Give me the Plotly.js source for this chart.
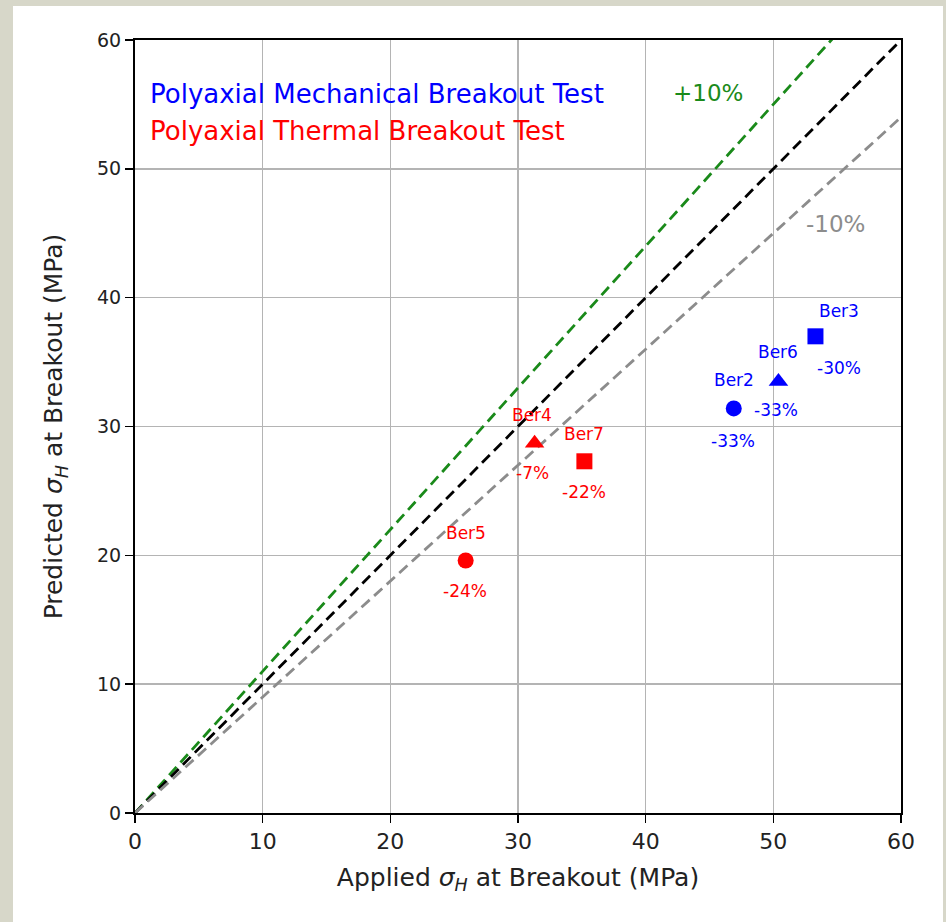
<!DOCTYPE html>
<html>
<head>
<meta charset="utf-8">
<script src="https://cdn.plot.ly/plotly-3.0.1.min.js"></script>
<style>
  html, body { margin: 0; padding: 0; background: #d7d7c9; width: 946px; height: 922px; overflow: hidden; }
  #panel { position: absolute; left: 13px; top: 6px; width: 930px; height: 916px; background: #ffffff; }
  #chart { position: absolute; left: 0; top: 0; width: 946px; height: 922px; }
</style>
</head>
<body>
<div id="panel"></div>
<div id="chart"></div>
<script>
// ---- data ----
const samples   = ['Ber2', 'Ber3', 'Ber6', 'Ber4', 'Ber5', 'Ber7'];
const testType  = ['Mechanical', 'Mechanical', 'Mechanical', 'Thermal', 'Thermal', 'Thermal'];
const applied   = [46.9, 53.3, 50.4, 31.3, 25.9, 35.2];   // Applied sigma_H (MPa)
const predicted = [31.4, 37.0, 33.5, 28.7, 19.6, 27.3];   // Predicted sigma_H (MPa)
const errorPct  = ['-33%', '-30%', '-33%', '-7%', '-24%', '-22%'];
const shapes    = ['circle', 'square', 'triangle-up', 'triangle-up', 'circle', 'square'];

const refX        = [0, 60];
const oneToOneY   = [0, 60];
const plus10Y     = [0, 66];
const minus10Y    = [0, 54];

const xTicks = [0, 10, 20, 30, 40, 50, 60];
const yTicks = [0, 10, 20, 30, 40, 50, 60];

const legendLabels = ['Polyaxial Mechanical Breakout Test', 'Polyaxial Thermal Breakout Test'];
const bandLabels   = ['+10%', '-10%'];

// ---- styling ----
const typeColor = { Mechanical: '#0000ff', Thermal: '#ff0000' };
const FONT = 'DejaVu Sans, Verdana, sans-serif';

const traces = [];
function refLine(y, color) {
  return { x: refX, y: y, mode: 'lines', hoverinfo: 'skip', showlegend: false,
           line: { color: color, width: 2.8, dash: '11px,6px' } };
}
traces.push(refLine(plus10Y, '#1a8a1a'));
traces.push(refLine(oneToOneY, '#000000'));
traces.push(refLine(minus10Y, '#8c8c8c'));

for (let i = 0; i < samples.length; i++) {
  traces.push({
    x: [applied[i]], y: [predicted[i]], mode: 'markers', name: samples[i], showlegend: false,
    marker: { symbol: shapes[i], size: shapes[i] === 'triangle-up' ? 17 : 16, color: typeColor[testType[i]] }
  });
}

// label pixel offsets (name above, percentage below)
const nameShift = [[0, 28], [24, 25], [0, 29], [-3, 28], [0, 27], [0, 27]];
const pctShift  = [[-1, -33], [24, -32], [-2, -29], [-2, -30], [-1, -31], [0, -31]];

const annotations = [];
for (let i = 0; i < samples.length; i++) {
  const c = typeColor[testType[i]];
  annotations.push({ x: applied[i], y: predicted[i], xref: 'x', yref: 'y', text: samples[i], showarrow: false,
    xanchor: 'center', yanchor: 'middle', xshift: nameShift[i][0], yshift: nameShift[i][1],
    font: { family: FONT, size: 17, color: c } });
  annotations.push({ x: applied[i], y: predicted[i], xref: 'x', yref: 'y', text: errorPct[i], showarrow: false,
    xanchor: 'center', yanchor: 'middle', xshift: pctShift[i][0], yshift: pctShift[i][1],
    font: { family: FONT, size: 17, color: c } });
}
annotations.push({ x: 1.0, y: 55.8, xref: 'x', yref: 'y', text: legendLabels[0], showarrow: false,
  xanchor: 'left', yanchor: 'middle', font: { family: FONT, size: 26, color: '#0000ff' } });
annotations.push({ x: 1.0, y: 52.9, xref: 'x', yref: 'y', text: legendLabels[1], showarrow: false,
  xanchor: 'left', yanchor: 'middle', font: { family: FONT, size: 26, color: '#ff0000' } });
annotations.push({ x: 44.9, y: 55.9, xref: 'x', yref: 'y', text: bandLabels[0], showarrow: false,
  xanchor: 'center', yanchor: 'middle', font: { family: FONT, size: 23, color: '#1a8a1a' } });
annotations.push({ x: 54.9, y: 45.7, xref: 'x', yref: 'y', text: bandLabels[1], showarrow: false,
  xanchor: 'center', yanchor: 'middle', font: { family: FONT, size: 23, color: '#8c8c8c' } });

const axisCommon = {
  showgrid: true, gridcolor: '#b4b4b4', gridwidth: 1.5,
  showline: true, linecolor: '#000000', linewidth: 2, mirror: true,
  ticks: 'outside', ticklen: 8, tickwidth: 1.5, tickcolor: '#000000',
  zeroline: false, tickmode: 'array', automargin: false
};

const layout = {
  width: 946, height: 922,
  margin: { l: 135, r: 45, t: 40, b: 109 },
  paper_bgcolor: 'rgba(0,0,0,0)', plot_bgcolor: '#ffffff',
  showlegend: false,
  xaxis: Object.assign({}, axisCommon, {
    range: [0, 60], tickvals: xTicks, ticktext: xTicks.map(String),
    tickfont: { family: FONT, size: 22, color: '#222222' },
    title: { text: 'Applied <i>σ</i><sub><i>H</i></sub> at Breakout (MPa)', standoff: 15,
             font: { family: FONT, size: 25, color: '#222222' } }
  }),
  yaxis: Object.assign({}, axisCommon, {
    range: [0, 60], tickvals: yTicks, ticktext: yTicks.map(String),
    tickfont: { family: FONT, size: 19, color: '#222222' },
    title: { text: 'Predicted <i>σ</i><sub><i>H</i></sub> at Breakout (MPa)', standoff: 27,
             font: { family: FONT, size: 25, color: '#222222' } }
  }),
  annotations: annotations
};

Plotly.newPlot('chart', traces, layout, { displayModeBar: false, staticPlot: true });
</script>
</body>
</html>
